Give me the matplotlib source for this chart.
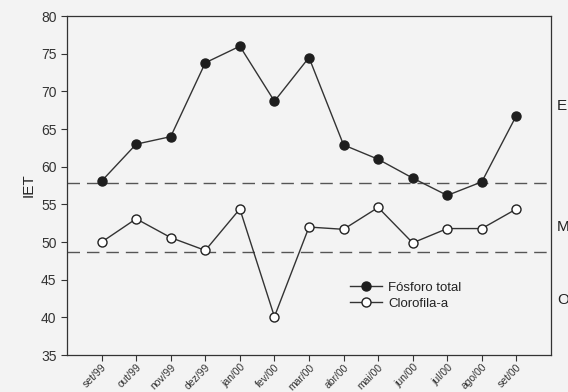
import matplotlib
matplotlib.use("Agg")
import matplotlib.pyplot as plt
import numpy as np

plt.rcParams['font.family'] = ['Liberation Sans', 'DejaVu Sans']

months = ["set/99", "out/99", "nov/99", "dez/99", "jan/00", "fev/00", "mar/00",
          "abr/00", "mai/00", "jun/00", "jul/00", "ago/00", "set/00"]
fosforo = [58.1, 63.0, 64.0, 73.8, 76.0, 68.7, 74.5, 62.9, 61.0, 58.5, 56.2, 58.0, 66.8]
clorofila = [50.0, 53.1, 50.6, 48.9, 54.4, 40.1, 52.0, 51.7, 54.6, 49.9, 51.8, 51.8, 54.4]
limits = [57.8, 48.7]
zone_labels = ["E", "M", "O"]
zone_y = [68.0, 52.0, 42.3]

bg = '#f3f3f3'
fig = plt.figure(figsize=(5.68, 3.92), dpi=100, facecolor=bg)
ax = fig.add_axes([0.118, 0.094, 0.852, 0.865], facecolor=bg)

x = np.arange(len(months))
lc = '#333333'
ax.plot(x, fosforo, '-o', color=lc, lw=1.0, ms=6.5, mfc='#1e1e1e', mec='#1e1e1e',
        label='Fósforo total', zorder=3)
ax.plot(x, clorofila, '-o', color=lc, lw=1.0, ms=6.5, mfc='white', mec='#222222',
        mew=1.0, label='Clorofila-a', zorder=3)
for yv in limits:
    ax.axhline(yv, color='#555555', lw=1.0, ls=(0, (9, 5)), zorder=2)

ax.set_xlim(-1, 13)
ax.set_ylim(35, 80)
ax.set_yticks(np.arange(35, 81, 5))
ax.set_xticks(x)
ax.set_xticklabels(months, rotation=45, ha='right', rotation_mode='anchor', fontsize=7.5,
                   color='#333333')
ax.tick_params(axis='y', labelsize=10, colors='#333333', length=4, width=0.8)
ax.tick_params(axis='x', length=4, width=0.8, colors='#333333', pad=1)
for s in ax.spines.values():
    s.set_color('#333333')
    s.set_linewidth(0.9)

ax.set_ylabel('IET', fontsize=11, color='#222222', labelpad=4)

for lab, yv in zip(zone_labels, zone_y):
    ax.text(1.012, yv, lab, transform=ax.get_yaxis_transform(), fontsize=11,
            color='#222222', va='center', ha='left')

leg = ax.legend(loc='center left', bbox_to_anchor=(0.56, 0.175), frameon=False,
                fontsize=9.5, handlelength=2.4, handletextpad=0.5, labelspacing=0.3)
for t in leg.get_texts():
    t.set_color('#222222')

fig.savefig('out.png', dpi=100, facecolor=bg)
